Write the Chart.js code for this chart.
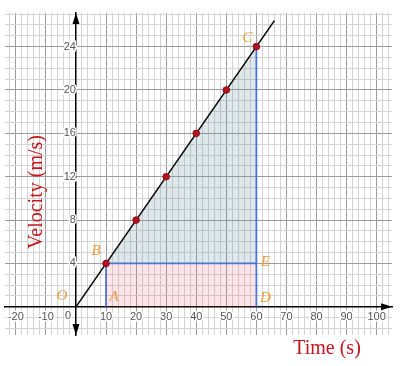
<!DOCTYPE html>
<html>
<head>
<meta charset="utf-8">
<script src="https://cdn.jsdelivr.net/npm/chart.js@4.4.0/dist/chart.umd.min.js"></script>
<style>
  html, body { margin: 0; padding: 0; background: #fff; }
  canvas { display: block; }
</style>
</head>
<body>
<canvas id="chart" width="400" height="366"></canvas>
<script>
// values
const times = [10, 20, 30, 40, 50, 60];
const velocities = [4, 8, 12, 16, 20, 24];
const lineTimes = [0, 66];
const lineVelocities = [0, 26.4];
const xLabels = [-20, -10, 10, 20, 30, 40, 50, 60, 70, 80, 90, 100];
const yLabels = [4, 8, 12, 16, 20, 24];
const pointNames = ['O', 'A', 'B', 'C', 'D', 'E'];
const pointTimes = [0, 10, 10, 60, 60, 60];
const pointVelocities = [0, 0, 4, 24, 0, 4];
const xRange = [-23.6, 105.1];
const yRange = [-2.6, 27.1];

const tickFont = { family: '"Liberation Sans", Arial, sans-serif', size: 11 };
const minorGrid = '#d4d4d4';
const majorGrid = '#9c9c9c';
const blue = '#4d74d6';

// pixel nudges for the point letters, like the original
const letterOffsets = { O: [-14, -11], A: [8, -10], B: [-10, -12], C: [-9, -9], D: [9, -9], E: [9, -1] };

function arrow(ctx, x, y, dir) {
    const len = 11, half = 3.5;
    ctx.beginPath();
    if (dir === 'up') { ctx.moveTo(x, y); ctx.lineTo(x - half, y + len); ctx.lineTo(x + half, y + len); }
    if (dir === 'down') { ctx.moveTo(x, y); ctx.lineTo(x - half, y - len); ctx.lineTo(x + half, y - len); }
    if (dir === 'right') { ctx.moveTo(x, y); ctx.lineTo(x - len, y - half); ctx.lineTo(x - len, y + half); }
    ctx.closePath();
    ctx.fill();
}

const extras = {
    id: 'extras',
    afterDraw(chart) {
        const { ctx, chartArea } = chart;
        const sx = chart.scales.x, sy = chart.scales.y;
        const x0 = sx.getPixelForValue(0), y0 = sy.getPixelForValue(0);
        ctx.save();
        ctx.fillStyle = '#000';
        arrow(ctx, x0, chartArea.top, 'up');
        arrow(ctx, x0, chartArea.bottom, 'down');
        arrow(ctx, chartArea.right, y0, 'right');

        // origin tick label sits left of the y axis
        ctx.font = `${tickFont.size}px ${tickFont.family}`;
        ctx.textAlign = 'center';
        ctx.textBaseline = 'middle';
        ctx.lineWidth = 3;
        ctx.strokeStyle = '#fff';
        ctx.strokeText('0', x0 - 8, y0 + 9);
        ctx.fillStyle = '#555';
        ctx.fillText('0', x0 - 8, y0 + 9);

        ctx.font = 'italic 15px "Liberation Serif", "Times New Roman", serif';
        ctx.fillStyle = '#ef9a3c';
        pointNames.forEach((n, i) => {
            const [dx, dy] = letterOffsets[n];
            ctx.fillText(n, sx.getPixelForValue(pointTimes[i]) + dx, sy.getPixelForValue(pointVelocities[i]) + dy);
        });

        ctx.fillStyle = '#c4161c';
        ctx.font = '20px "Liberation Serif", "Times New Roman", serif';
        ctx.fillText('Time (s)', 327, 349);
        ctx.translate(37, 192);
        ctx.rotate(-Math.PI / 2);
        ctx.fillText('Velocity (m/s)', 0, 0);
        ctx.restore();
    }
};

const xy = (xs, ys) => xs.map((v, i) => ({ x: v, y: ys[i] }));

new Chart(document.getElementById('chart'), {
    type: 'scatter',
    data: {
        datasets: [
            {   // points on the line
                data: xy(times, velocities),
                pointRadius: 3.3,
                backgroundColor: '#b3141f',
                borderColor: '#8a0c14',
                borderWidth: 1,
                order: 0
            },
            {
                data: xy(lineTimes, lineVelocities),
                showLine: true,
                borderColor: '#000',
                borderWidth: 1.5,
                pointRadius: 0,
                order: 1
            },
            {
                data: [{ x: times[0], y: 0 }, { x: times[0], y: velocities[0] }, { x: times[5], y: velocities[0] }],
                showLine: true,
                borderColor: blue,
                borderWidth: 1.8,
                pointRadius: 0,
                order: 2
            },
            {
                data: [{ x: times[5], y: 0 }, { x: times[5], y: velocities[5] }],
                showLine: true,
                borderColor: blue,
                borderWidth: 1.8,
                pointRadius: 0,
                order: 2
            },
            {   // triangle above the rectangle
                data: [{ x: times[0], y: velocities[0] }, { x: times[5], y: velocities[5] }],
                showLine: true,
                borderWidth: 0,
                pointRadius: 0,
                fill: { value: velocities[0] },
                backgroundColor: 'rgba(90,140,150,0.2)',
                order: 3
            },
            {   // rectangle under
                data: [{ x: times[0], y: velocities[0] }, { x: times[5], y: velocities[0] }],
                showLine: true,
                borderWidth: 0,
                pointRadius: 0,
                fill: 'origin',
                backgroundColor: 'rgba(240,110,125,0.18)',
                order: 3
            }
        ]
    },
    options: {
        responsive: false,
        animation: false,
        events: [],
        layout: { padding: { left: 1, right: 8, top: 13, bottom: 31 } },
        plugins: { legend: { display: false }, tooltip: { enabled: false } },
        scales: {
            x: {
                type: 'linear',
                position: { y: 0 },
                min: xRange[0],
                max: xRange[1],
                afterFit: s => { s.height = 0; s.paddingLeft = 0; s.paddingRight = 0; },
                border: { color: '#000', width: 1.5 },
                grid: {
                    drawTicks: false,
                    color: c => (c.tick && c.tick.value % 10 === 0 ? majorGrid : minorGrid),
                    lineWidth: 1
                },
                ticks: {
                    stepSize: 2,
                    autoSkip: false,
                    includeBounds: false,
                    maxRotation: 0,
                    padding: 4,
                    font: tickFont,
                    color: '#555',
                    textStrokeColor: '#fff',
                    textStrokeWidth: 3,
                    callback: v => (xLabels.includes(v) ? String(v) : '')
                }
            },
            y: {
                type: 'linear',
                position: { x: 0 },
                min: yRange[0],
                max: yRange[1],
                afterFit: s => { s.width = 0; s.paddingTop = 0; s.paddingBottom = 0; },
                border: { color: '#000', width: 1.5 },
                grid: {
                    drawTicks: false,
                    color: c => (c.tick && c.tick.value % 4 === 0 ? majorGrid : minorGrid),
                    lineWidth: 1
                },
                ticks: {
                    stepSize: 1,
                    autoSkip: false,
                    includeBounds: false,
                    padding: 6,
                    font: tickFont,
                    color: '#555',
                    textStrokeColor: '#fff',
                    textStrokeWidth: 3,
                    callback: v => (yLabels.includes(v) ? String(v) : '')
                }
            }
        }
    },
    plugins: [extras]
});
</script>
</body>
</html>
